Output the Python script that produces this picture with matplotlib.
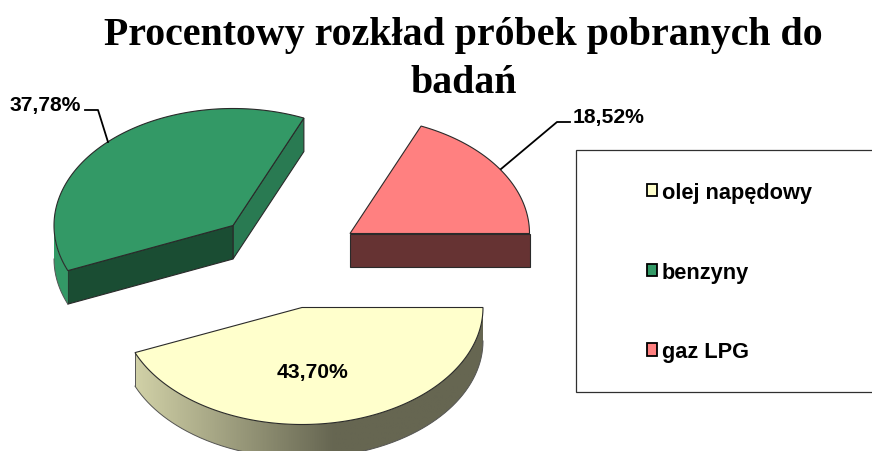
import numpy as np
import matplotlib
matplotlib.use("Agg")
import matplotlib.pyplot as plt
from matplotlib.colors import LinearSegmentedColormap, to_rgb
from matplotlib.patches import Polygon, Rectangle, Patch

# Data
categories = ["olej napędowy", "benzyny", "gaz LPG"]
values = [43.70, 37.78, 18.52]
value_labels = ["43,70%", "37,78%", "18,52%"]
title = "Procentowy rozkład próbek pobranych do\nbadań"

# Style / layout
colors = ["#FFFFCC", "#339966", "#FF8080"]
centers = [(302, 308.5), (233, 226.5), (350, 234.5)]
radii_x = [181, 179, 179.5]
RY, DEPTH = 117, 33.5
EDGE = "#2a2a2a"

fig = plt.figure(figsize=(8.72, 4.52), dpi=100)
ax = fig.add_axes([0, 0, 1, 1])
ax.axis("off")


def arc(c, rx, a0, a1, n=200):
    t = np.radians(np.linspace(a0, a1, n))
    return np.column_stack([c[0] + rx * np.cos(t), c[1] + RY * np.sin(t)])


def shade(hex_color, f):
    return tuple(np.array(to_rgb(hex_color)) * f)


def wall(p, q, fc, z=2):
    d = np.array([0, DEPTH])
    ax.add_patch(Polygon([p, q, q + d, p + d], closed=True, fc=fc, ec=EDGE, lw=0.8, zorder=z))


cum = np.concatenate([[0], np.cumsum(values)]) * 3.6
for i, (c, rx, col) in enumerate(zip(centers, radii_x, colors)):
    a0, a1 = cum[i], cum[i + 1]
    cp = np.array(c, float)
    pts = arc(c, rx, a0, a1)
    p0, p1 = pts[0], pts[-1]
    # cut faces seen from the front
    if 270 < a1 < 359:
        wall(cp, p1, shade(col, 0.8))
    if a1 >= 359:
        wall(cp, p1, shade(col, 0.4))
    if 90 < a0 < 180:
        wall(p0, cp, shade(col, 0.5))
    # outer rim, lower half of the ellipse
    lo, hi = max(a0, 0), min(a1, 180)
    if hi > lo:
        rim = arc(c, rx, lo, hi, 300)
        outline = np.vstack([rim, (rim + [0, DEPTH])[::-1]])
        poly = Polygon(outline, closed=True, fc=shade(col, 1.0), ec="none", zorder=2)
        ax.add_patch(poly)
        if i == 0:
            cmap = LinearSegmentedColormap.from_list(
                "rim", [(0, shade(col, 0.82)), (0.57, shade(col, 0.4)), (1, shade(col, 0.4))])
            grad = np.linspace(0, 1, 256)[None, :]
            im = ax.imshow(grad, cmap=cmap, extent=(135, 483, 480, 300), aspect="auto", zorder=2.1)
            im.set_clip_path(poly)
        ax.plot(rim[:, 0], rim[:, 1] + DEPTH, color="#555555", lw=0.7, zorder=3)
    if i == 0:
        ax.plot([p1[0]] * 2, [p1[1], p1[1] + DEPTH], color="#555555", lw=0.7, zorder=3)
    # top face
    ax.add_patch(Polygon(np.vstack([cp, pts]), closed=True, fc=col, ec=EDGE, lw=0.8, zorder=4))

ax.set_xlim(0, 872)
ax.set_ylim(452, 0)

# Title
ax.text(463.5, 59.5, title, ha="center", va="center", fontsize=28.7, fontweight="bold",
        family="Liberation Serif", color="black", linespacing=1.36)

# Value labels and leader lines
lab = dict(fontsize=15.2, fontweight="bold", family="Liberation Sans", color="black", zorder=6)
ax.text(312, 372.5, value_labels[0], ha="center", va="center", **lab)
ax.text(10, 106, value_labels[1], ha="left", va="center", **lab)
ax.text(573, 117, value_labels[2], ha="left", va="center", **lab)
ax.plot([85, 98, 108], [111, 111, 143], color="black", lw=1.3, zorder=6)
ax.plot([570, 557, 501], [123, 123, 170], color="black", lw=1.3, zorder=6)

# Legend
ax.add_patch(Rectangle((576, 150.5), 310, 242, fc="white", ec="#303030", lw=0.9, zorder=1))
handles = [Patch(fc=c, ec="black", lw=1.3) for c in colors]
leg = ax.legend(handles, categories, loc="upper left", bbox_to_anchor=(646.5, 183), bbox_transform=ax.transData,
                frameon=False, borderpad=0, borderaxespad=0, handlelength=0.5, handleheight=0.5,
                handletextpad=0.2, labelspacing=2.69,
                prop=dict(family="Liberation Sans", weight="bold", size=15.7))
leg.set_zorder(5)

fig.savefig("out.png", dpi=100, facecolor="white")
